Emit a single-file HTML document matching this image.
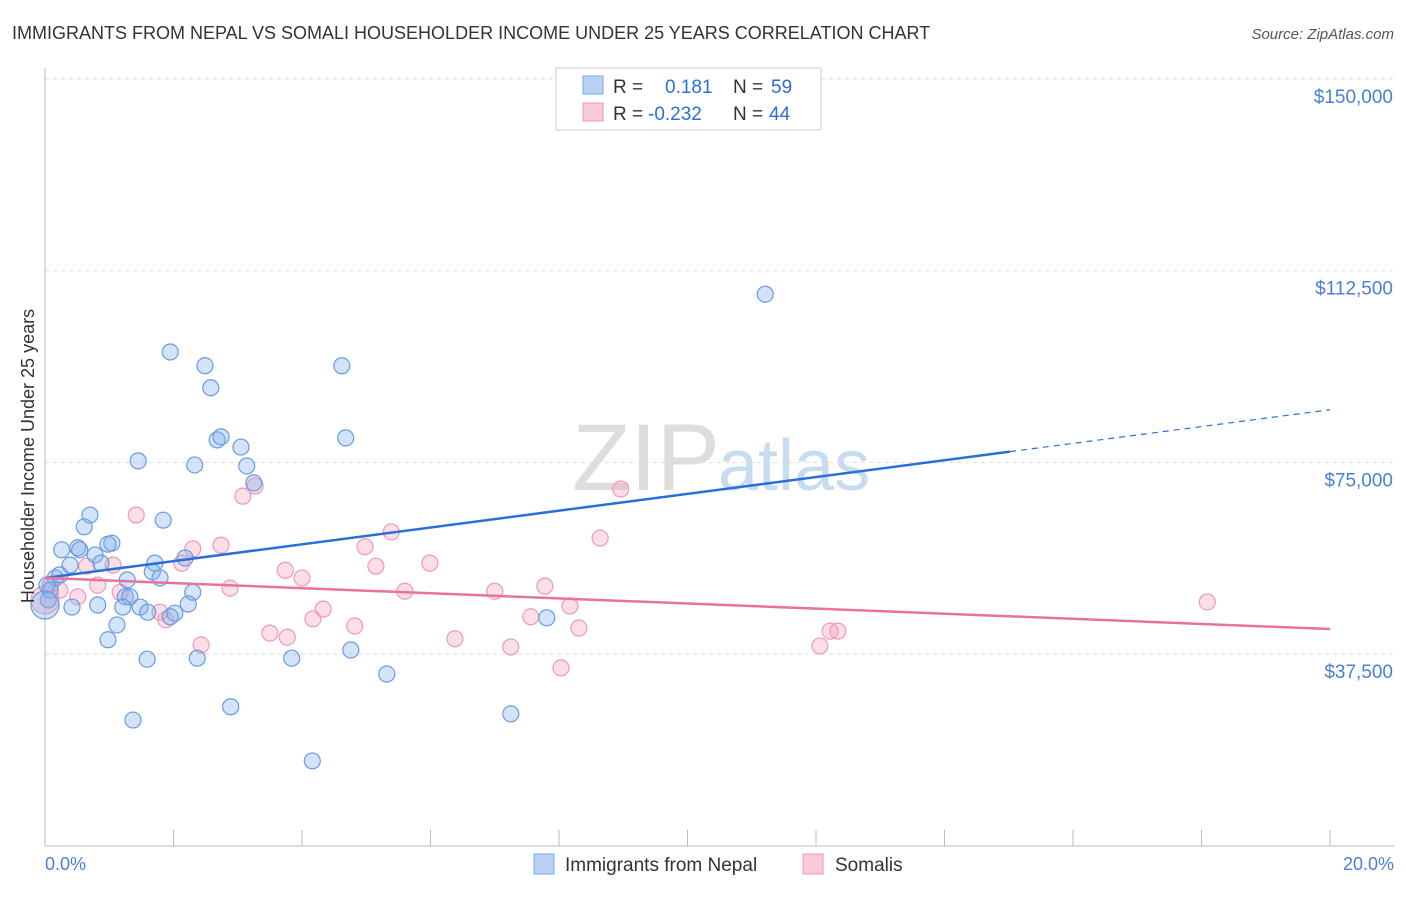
<!DOCTYPE html>
<html><head><meta charset="utf-8"><style>
body{margin:0;background:#fff;font-family:"Liberation Sans",sans-serif;}
svg text{font-family:"Liberation Sans",sans-serif;}
</style></head><body>
<svg id="chart" width="1406" height="892" xmlns="http://www.w3.org/2000/svg">
<text x="12" y="39" font-size="18" fill="#333">IMMIGRANTS FROM NEPAL VS SOMALI HOUSEHOLDER INCOME UNDER 25 YEARS CORRELATION CHART</text>
<text x="1394" y="39" font-size="15" fill="#555" text-anchor="end" font-style="italic">Source: ZipAtlas.com</text>
<text x="720" y="490" font-size="95" fill="#ddd" text-anchor="end" font-family="Liberation Serif">ZIP</text>
<text x="718" y="490" font-size="72" fill="#c8dcf0">atlas</text>
<g id="grid"></g>
<g id="marks"></g>
<text transform="translate(34,456) rotate(-90)" font-size="18" fill="#333" text-anchor="middle">Householder Income Under 25 years</text>
<text x="45" y="870" font-size="18" fill="#4a7fd4">0.0%</text>
<text x="1394" y="870" font-size="18" fill="#4a7fd4" text-anchor="end">20.0%</text>
<g>
<rect x="556" y="68" width="265" height="62" fill="#fff" stroke="#ccc"/>
<rect x="583" y="76" width="20" height="18" fill="#b9d3f5" stroke="#7aa5e6"/>
<rect x="583" y="103" width="20" height="18" fill="#fbcad9" stroke="#ef9ab5"/>
<text x="613" y="93" font-size="19" fill="#333">R = </text><text x="665" y="93" font-size="19" fill="#2b6fd6">0.181</text>
<text x="733" y="93" font-size="19" fill="#333">N = </text><text x="771" y="93" font-size="19" fill="#2b6fd6">59</text>
<text x="613" y="120" font-size="19" fill="#333">R = </text><text x="648" y="120" font-size="19" fill="#2b6fd6">-0.232</text>
<text x="733" y="120" font-size="19" fill="#333">N = </text><text x="769" y="120" font-size="19" fill="#2b6fd6">44</text>
</g>
<g>
<rect x="534" y="854" width="20" height="20" fill="#b9d3f5" stroke="#7aa5e6"/>
<text x="565" y="871" font-size="19" fill="#333">Immigrants from Nepal</text>
<rect x="803" y="854" width="20" height="20" fill="#fbcad9" stroke="#ef9ab5"/>
<text x="835" y="871" font-size="19" fill="#333">Somalis</text>
</g>
</svg>
<script>
const yTicks=[37500,75000,112500,150000];
const yTickLabels=["$37,500","$75,000","$112,500","$150,000"];
const xTicks=[0,2,4,6,8,10,12,14,16,18,20];
const nepalX=[11.21,1.95,2.49,4.62,2.58,2.68,2.74,3.05,4.68,1.45,2.33,3.14,3.25,0.70,1.84,0.61,0.26,0.51,0.54,1.04,0.98,0.78,1.71,0.87,0.39,2.18,1.67,1.79,1.28,0.16,0.03,0.08,0.23,0.05,0.42,0.82,1.25,1.32,2.30,2.23,1.48,1.60,2.02,1.21,1.95,7.81,1.12,0.98,4.76,1.59,2.37,3.84,5.32,2.89,1.37,7.25,4.16,0];
const nepalY=[107.9,96.6,93.9,93.9,89.6,79.4,80.0,78.0,79.8,75.3,74.5,74.3,71.0,64.7,63.7,62.4,57.9,58.3,57.9,59.2,59.0,56.9,55.3,55.3,54.9,56.3,53.6,52.4,52.0,52.4,51.0,50.0,53.0,48.1,46.7,47.1,48.7,48.7,49.6,47.3,46.7,45.7,45.5,46.7,44.8,44.6,43.2,40.3,38.3,36.5,36.7,36.7,33.6,27.2,24.6,25.8,16.6,47.1];
const somaliX=[8.96,3.08,3.27,1.42,5.39,8.64,4.98,2.74,2.30,2.13,1.06,0.65,5.15,5.99,3.74,4.00,7.78,2.88,5.60,7.00,0.23,0.51,1.17,0.08,0.82,8.17,4.33,4.17,7.56,1.88,1.79,4.82,8.31,3.50,3.77,2.43,6.38,7.25,12.22,12.34,12.06,8.03,18.09,0];
const somaliY=[69.8,68.4,70.4,64.7,61.4,60.2,58.5,58.8,58.1,55.3,54.9,54.7,54.7,55.3,53.9,52.4,50.8,50.4,49.8,49.8,50.0,48.7,49.6,51.0,51.0,46.9,46.3,44.4,44.8,44.2,45.7,43.0,42.6,41.6,40.8,39.3,40.5,38.9,42.0,42.0,39.1,34.8,47.7,48.1];
const nepalTrend=[52.4,85.3]; const nepalSolidEnd=15.02;
const somaliTrend=[52.4,42.4];
const NS="http://www.w3.org/2000/svg";
const X=p=>45+p/20*1285;
const Y=k=>845.8-k*1000/37500*191.7;
const grid=document.getElementById('grid'),marks=document.getElementById('marks');
function mk(tag,attrs,parent){const e=document.createElementNS(NS,tag);for(const k in attrs)e.setAttribute(k,attrs[k]);parent.appendChild(e);return e;}
yTicks.forEach((v,i)=>{
 const l=mk('line',{x1:45,x2:1394,y1:Y(v/1000),y2:Y(v/1000),stroke:'#ddd','stroke-dasharray':'4,4'},grid);
 
 
 const t=mk('text',{x:1393,y:Y(v/1000)+24,'font-size':19,fill:'#4a7fd4','text-anchor':'end'},grid);
 t.textContent=yTickLabels[i];
 
 
});
const ax=mk('line',{x1:45,x2:45,y1:68,y2:846,stroke:'#bbb'},grid);


const bx=mk('line',{x1:45,x2:1394,y1:846,y2:846,stroke:'#bbb'},grid);


xTicks.forEach(p=>{
 const t=mk('line',{x1:X(p),x2:X(p),y1:830,y2:846,stroke:'#bbb'},grid);
 
 
});
function dots(xs,ys,fill,stroke,name){
 xs.forEach((x,i)=>{
  const big=(x===0);
  const c=mk('circle',{cx:X(x),cy:Y(ys[i]),r:big?14:8,fill:fill,stroke:stroke,'stroke-width':1.2},marks);
  
  
 });
}
dots(somaliX,somaliY,'rgba(244,160,190,0.35)','#ef9ab5','somali-point');
dots(nepalX,nepalY,'rgba(130,175,235,0.35)','#6a9be0','nepal-point');
const ny=p=>nepalTrend[0]+(nepalTrend[1]-nepalTrend[0])*p/20;
const l1=mk('line',{x1:X(0),y1:Y(ny(0)),x2:X(nepalSolidEnd),y2:Y(ny(nepalSolidEnd)),stroke:'#2b6fd6','stroke-width':2.5},marks);


const l2=mk('line',{x1:X(nepalSolidEnd),y1:Y(ny(nepalSolidEnd)),x2:X(20),y2:Y(ny(20)),stroke:'#2b6fd6','stroke-width':1.2,'stroke-dasharray':'6,5'},marks);


const l3=mk('line',{x1:X(0),y1:Y(somaliTrend[0]),x2:X(20),y2:Y(somaliTrend[1]),stroke:'#e8739a','stroke-width':2.5},marks);


</script>
</body></html>
